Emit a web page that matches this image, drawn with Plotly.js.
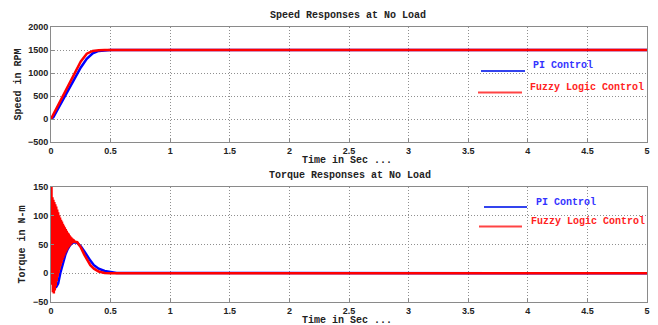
<!DOCTYPE html>
<html><head><meta charset="utf-8">
<script src="https://cdn.plot.ly/plotly-3.0.1.min.js"></script>
<style>html,body{margin:0;padding:0;background:#fff}#c{width:658px;height:325px}</style>
</head><body><div id="c"></div>
<script>
// ---- data ----
const tSpeedPI = [0,0.02,0.05,0.1,0.15,0.2,0.25,0.3,0.35,0.4,0.45,0.5,5];
const speedPI  = [0,40,180,420,670,900,1120,1310,1430,1480,1496,1500,1500];
const tSpeedFL = [0,0.05,0.1,0.15,0.2,0.25,0.3,0.35,0.4,0.45,5];
const speedFL  = [0,250,500,760,1010,1250,1420,1480,1497,1500,1500];

const tTorquePI = [0,0.02,0.04,0.06,0.08,0.1,0.12,0.14,0.16,0.18,0.2,0.22,0.25,0.28,0.3,0.33,0.36,0.4,0.45,0.5,0.55,5];
const torquePI  = [0,-10,-25,-18,2,18,32,42,49,53,54,53,47,38,31,22,14,8,4,2,0.5,0];

const tTorqueFL = [0,0.004,0.008,0.012,0.016,0.02,0.024,0.028,0.032,0.036,0.04,0.044,0.048,0.052,0.056,0.06,0.064,0.068,0.072,0.076,0.08,0.084,0.088,0.092,0.096,0.1,0.104,0.108,0.112,0.116,0.12,0.124,0.128,0.132,0.136,0.14,0.144,0.148,0.152,0.156,0.16,0.164,0.168,0.172,0.176,0.18,0.184,0.188,0.192,0.196,0.2,0.22,0.25,0.28,0.3,0.33,0.36,0.4,0.45,0.5,5];
const torqueFL  = [30,150,-20,132,-33,128,-35,124,-30,120,-22,116,-14,111,-6,106,0,101,6,97,12,93,18,90,23,86,27,83,31,80,35,77,38,74,41,71,44,69,46,66,48,64,50,62,52,60,53,58,54,56,55,54,45,32,24,14,8,3,0.5,0,0];

const xTicks = [0,0.5,1,1.5,2,2.5,3,3.5,4,4.5,5];
const speedTicks = [-500,0,500,1000,1500,2000];
const torqueTicks = [-50,0,50,100,150];
const names = ["PI Control","Fuzzy Logic Control"];
const titles = ["Speed Responses at No Load","Torque Responses at No Load"];
const yTitles = ["Speed in RPM","Torque in N-m"];
const xTitle = "Time in Sec ...";

// ---- layout helpers ----
const W=658,H=325, L=51, R=647, T=27, B=302;
const px = x => (x-L)/(R-L);
const py = y => (B-y)/(B-T);
const mono = {family:'"Courier New", "Liberation Mono", monospace', size:10, color:"#222", weight:"bold"};
const BLUE="#0000ff", RED="#ff0000";

const traces = [
  {x:tSpeedPI,y:speedPI,xaxis:"x",yaxis:"y",mode:"lines",line:{color:BLUE,width:2.5},name:names[0]},
  {x:tSpeedFL,y:speedFL,xaxis:"x",yaxis:"y",mode:"lines",line:{color:RED,width:2.5},name:names[1]},
  {x:tTorquePI,y:torquePI,xaxis:"x2",yaxis:"y2",mode:"lines",line:{color:BLUE,width:2.5},name:names[0]},
  {x:tTorqueFL,y:torqueFL,xaxis:"x2",yaxis:"y2",mode:"lines",line:{color:RED,width:2.5},name:names[1]}
];

const axCommon = {
  showline:true, mirror:true, linecolor:"#8a8a8a", linewidth:1,
  showgrid:true, gridcolor:"#8f8f8f", griddash:"1px,2px", gridwidth:1,
  zeroline:false, ticks:"inside", ticklen:3, tickcolor:"#8a8a8a",
  tickfont:{family:"Liberation Sans, Arial, sans-serif", size:9, color:"#222", weight:"bold"},
  fixedrange:true
};
const topFrac = py(142), botFrac = py(187);

const layout = {
  width:W, height:H, paper_bgcolor:"#fff", plot_bgcolor:"#fff", showlegend:false,
  margin:{l:L, r:W-R, t:T, b:H-B, pad:0},
  xaxis:Object.assign({}, axCommon, {domain:[0,1], anchor:"y", range:[0,5], tickvals:xTicks, ticktext:xTicks.map(String)}),
  yaxis:Object.assign({}, axCommon, {domain:[topFrac,1], anchor:"x", range:[-500,2000], tickvals:speedTicks}),
  xaxis2:Object.assign({}, axCommon, {domain:[0,1], anchor:"y2", range:[0,5], tickvals:xTicks, ticktext:xTicks.map(String)}),
  yaxis2:Object.assign({}, axCommon, {domain:[0,botFrac], anchor:"x2", range:[-50,150], tickvals:torqueTicks}),
  annotations:[
    {text:titles[0], x:px(348), y:py(16)},
    {text:xTitle, x:px(347), y:py(160)},
    {text:titles[1], x:px(350), y:py(176)},
    {text:xTitle, x:px(347), y:py(320)},
    {text:yTitles[0], x:px(18), y:py(84.5), textangle:-90},
    {text:yTitles[1], x:px(22), y:py(244.5), textangle:-90},
    {text:names[0], x:px(531), y:py(65), xanchor:"left", font:Object.assign({},mono,{color:"#3333ff"})},
    {text:names[1], x:px(528), y:py(87), xanchor:"left", font:Object.assign({},mono,{color:"#ff2222"})},
    {text:names[0], x:px(534), y:py(202), xanchor:"left", font:Object.assign({},mono,{color:"#3333ff"})},
    {text:names[1], x:px(529), y:py(221), xanchor:"left", font:Object.assign({},mono,{color:"#ff2222"})}
  ].map(a => Object.assign({xref:"paper", yref:"paper", showarrow:false, xanchor:"center", yanchor:"middle", font:mono}, a)),
  shapes:[
    {x0:px(481), x1:px(525), y0:py(71), y1:py(71), line:{color:"#3344ee", width:2}},
    {x0:px(478), x1:px(522), y0:py(92.5), y1:py(92.5), line:{color:"#ff4444", width:2}},
    {x0:px(484), x1:px(527), y0:py(207), y1:py(207), line:{color:"#3344ee", width:2}},
    {x0:px(479), x1:px(522), y0:py(226.5), y1:py(226.5), line:{color:"#ff4444", width:2}}
  ].map(s => Object.assign({type:"line", xref:"paper", yref:"paper"}, s))
};

Plotly.newPlot("c", traces, layout, {displayModeBar:false, staticPlot:true});
</script></body></html>
